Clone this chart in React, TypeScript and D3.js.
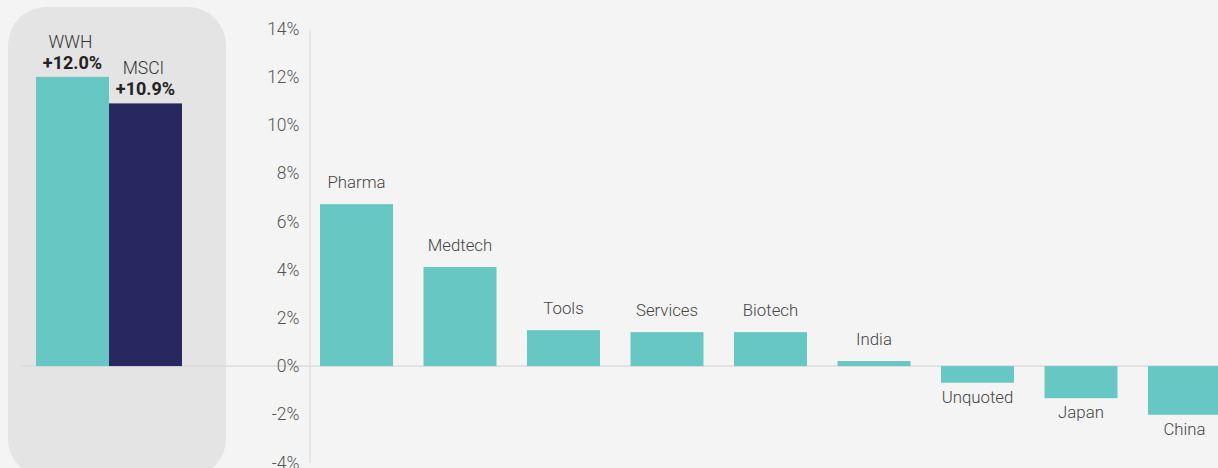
import React, { useEffect, useRef } from 'react';
import * as d3 from 'd3';

// Sector / region contributions (%)
const categories = ['Pharma', 'Medtech', 'Tools', 'Services', 'Biotech', 'India', 'Unquoted', 'Japan', 'China'];
const contributions = [6.72, 4.11, 1.49, 1.41, 1.41, 0.21, -0.69, -1.33, -2.02];

// Total performance comparison
const benchmarks = ['WWH', 'MSCI'];
const benchmarkValues = [12.0, 10.9];
const benchmarkLabels = ['+12.0%', '+10.9%'];

const yTicks = [-4, -2, 0, 2, 4, 6, 8, 10, 12, 14];

const WIDTH = 1218;
const HEIGHT = 468;
const TEAL = '#67c7c2';
const NAVY = '#282760';
const FONT = 'Roboto, "Noto Sans", sans-serif';

const App: React.FC = () => {
  const ref = useRef<SVGSVGElement>(null);

  useEffect(() => {
    const svg = d3.select(ref.current);
    svg.selectAll('*').remove();

    // y scale: 0% sits at 366, 2% steps of ~48px
    const y = d3.scaleLinear().domain([-4, 14]).range([462.5, 28.7]);

    // background
    svg.append('rect').attr('width', WIDTH).attr('height', HEIGHT).attr('fill', '#f4f4f4');

    // left highlight panel
    svg.append('rect')
      .attr('x', 8).attr('y', 7)
      .attr('width', 218).attr('height', 470)
      .attr('rx', 38)
      .attr('fill', '#e3e4e3');

    // zero line
    svg.append('line')
      .attr('x1', 21).attr('x2', WIDTH)
      .attr('y1', y(0)).attr('y2', y(0))
      .attr('stroke', '#dcdcdc').attr('stroke-width', 1.5);

    // y axis
    const axis = svg.append('g')
      .attr('transform', 'translate(309.5,0)')
      .call(d3.axisLeft(y).tickValues(yTicks).tickSize(0).tickPadding(10).tickFormat(d => `${d}%`));
    axis.select('.domain').attr('stroke', '#dcdcdc').attr('stroke-width', 1.2);
    axis.selectAll('text')
      .attr('font-family', FONT)
      .attr('font-weight', 300)
      .attr('font-size', 17.5)
      .attr('fill', '#555');

    // benchmark bars
    const xb = d3.scaleBand().domain(benchmarks).range([36, 182]).padding(0);
    const bg = svg.append('g');
    bg.selectAll('rect')
      .data(benchmarks)
      .enter()
      .append('rect')
      .attr('x', d => xb(d)!)
      .attr('width', xb.bandwidth())
      .attr('y', (_, i) => y(benchmarkValues[i]))
      .attr('height', (_, i) => y(0) - y(benchmarkValues[i]))
      .attr('fill', (_, i) => (i === 0 ? TEAL : NAVY));

    bg.selectAll('text.name')
      .data(benchmarks)
      .enter()
      .append('text')
      .attr('class', 'name')
      .attr('x', d => xb(d)! + xb.bandwidth() / 2 - 2)
      .attr('y', (_, i) => y(benchmarkValues[i]) - 29)
      .attr('text-anchor', 'middle')
      .attr('font-family', FONT)
      .attr('font-weight', 300)
      .attr('font-size', 17.5)
      .attr('fill', '#333')
      .text(d => d);

    bg.selectAll('text.val')
      .data(benchmarks)
      .enter()
      .append('text')
      .attr('class', 'val')
      .attr('x', d => xb(d)! + xb.bandwidth() / 2)
      .attr('y', (_, i) => y(benchmarkValues[i]) - 8)
      .attr('text-anchor', 'middle')
      .attr('font-family', FONT)
      .attr('font-weight', 700)
      .attr('font-size', 18)
      .attr('fill', '#222')
      .text((_, i) => benchmarkLabels[i]);

    // contribution bars
    const x = d3.scaleBand()
      .domain(categories)
      .range([304.75, 1236.25])
      .paddingInner(0.295)
      .paddingOuter(0.1475);

    const g = svg.append('g');
    g.selectAll('rect')
      .data(categories)
      .enter()
      .append('rect')
      .attr('x', d => x(d)!)
      .attr('width', x.bandwidth())
      .attr('y', (_, i) => Math.min(y(0), y(contributions[i])))
      .attr('height', (_, i) => Math.abs(y(contributions[i]) - y(0)))
      .attr('fill', TEAL);

    g.selectAll('text')
      .data(categories)
      .enter()
      .append('text')
      .attr('x', d => x(d)! + x.bandwidth() / 2)
      .attr('y', (_, i) => contributions[i] >= 0 ? y(contributions[i]) - 16 : y(contributions[i]) + 20)
      .attr('text-anchor', 'middle')
      .attr('font-family', FONT)
      .attr('font-weight', 300)
      .attr('font-size', 16.8)
      .attr('fill', '#444')
      .text(d => d);
  }, []);

  return (
    <svg
      ref={ref}
      width={WIDTH}
      height={HEIGHT}
      style={{ position: 'absolute', left: 0, top: 0, display: 'block' }}
    />
  );
};

export default App;
